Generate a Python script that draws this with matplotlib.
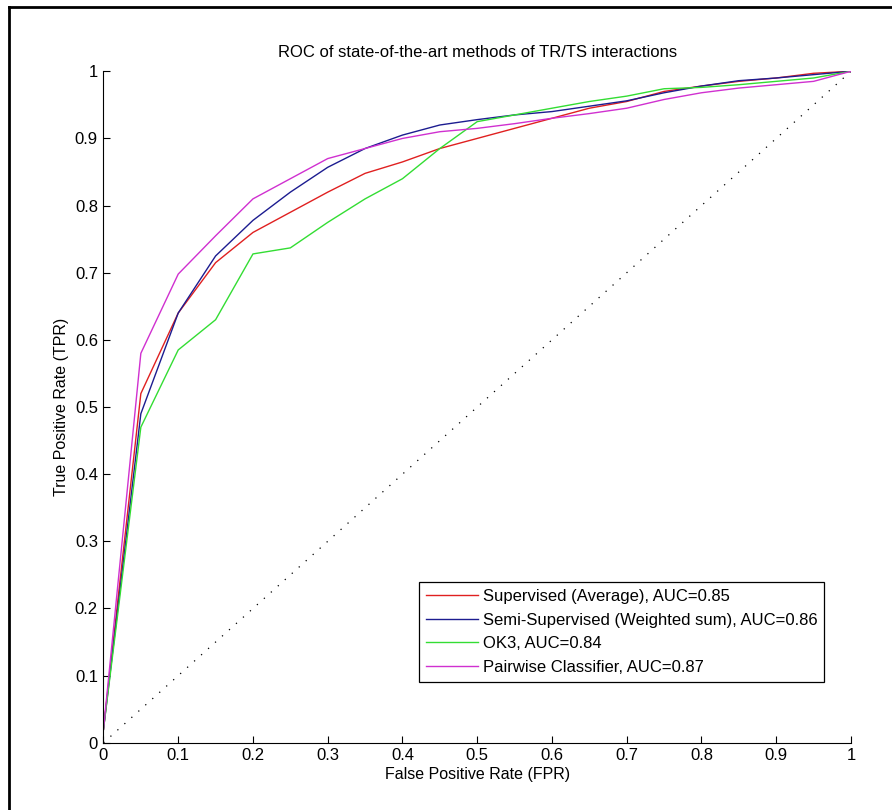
import matplotlib.pyplot as plt
from matplotlib.lines import Line2D

plt.rcParams['font.family'] = ['Liberation Sans', 'DejaVu Sans']

fpr = [0, 0.05, 0.1, 0.15, 0.2, 0.25, 0.3, 0.35, 0.4, 0.45, 0.5,
       0.55, 0.6, 0.65, 0.7, 0.75, 0.8, 0.85, 0.9, 0.95, 1.0]

tpr_sup = [0.02, 0.52, 0.64, 0.715, 0.76, 0.79, 0.82, 0.848, 0.865, 0.885, 0.9,
           0.915, 0.93, 0.945, 0.955, 0.97, 0.978, 0.985, 0.99, 0.997, 1.0]
tpr_semi = [0.02, 0.49, 0.64, 0.725, 0.778, 0.82, 0.857, 0.885, 0.905, 0.92, 0.928,
            0.935, 0.94, 0.948, 0.956, 0.968, 0.978, 0.986, 0.99, 0.995, 1.0]
tpr_ok3 = [0.02, 0.47, 0.585, 0.63, 0.728, 0.737, 0.775, 0.81, 0.84, 0.885, 0.925,
           0.935, 0.945, 0.955, 0.963, 0.974, 0.976, 0.98, 0.985, 0.99, 1.0]
tpr_pair = [0.02, 0.58, 0.698, 0.755, 0.81, 0.84, 0.87, 0.885, 0.9, 0.91, 0.915,
            0.922, 0.93, 0.937, 0.945, 0.958, 0.968, 0.975, 0.98, 0.985, 1.0]

labels = ['Supervised (Average), AUC=0.85',
          'Semi-Supervised (Weighted sum), AUC=0.86',
          'OK3, AUC=0.84',
          'Pairwise Classifier, AUC=0.87']

fig = plt.figure(figsize=(8.92, 8.10), dpi=100)
ax = fig.add_axes([0.116, 0.083, 0.838, 0.829])

ax.plot([0, 1], [0, 1], color='black', linestyle=(0, (1, 6.5)), linewidth=0.9)
ax.plot(fpr, tpr_sup, color='#e02020', linewidth=1, label=labels[0])
ax.plot(fpr, tpr_semi, color='#1c1c90', linewidth=1, label=labels[1])
ax.plot(fpr, tpr_ok3, color='#33dd33', linewidth=1, label=labels[2])
ax.plot(fpr, tpr_pair, color='#d030d0', linewidth=1, label=labels[3])

ax.set_xlim(0, 1)
ax.set_ylim(0, 1)
ticks = [0, 0.1, 0.2, 0.3, 0.4, 0.5, 0.6, 0.7, 0.8, 0.9, 1]
tick_labels = ['0', '0.1', '0.2', '0.3', '0.4', '0.5', '0.6', '0.7', '0.8', '0.9', '1']
ax.set_xticks(ticks)
ax.set_xticklabels(tick_labels)
ax.set_yticks(ticks)
ax.set_yticklabels(tick_labels)
ax.tick_params(direction='in', length=5, labelsize=12, pad=4)

ax.spines['top'].set_visible(False)
ax.spines['right'].set_visible(False)

ax.set_title('ROC of state-of-the-art methods of TR/TS interactions', fontsize=12, pad=10)
ax.set_xlabel('False Positive Rate (FPR)', fontsize=11.5, labelpad=3)
ax.set_ylabel('True Positive Rate (TPR)', fontsize=11.5, labelpad=4)

leg = ax.legend(loc='lower right', bbox_to_anchor=(0.964, 0.091), fontsize=12,
                fancybox=False, edgecolor='black', framealpha=1,
                handlelength=3.1, handletextpad=0.3, labelspacing=0.52,
                borderpad=0.4, borderaxespad=0)
leg.get_frame().set_linewidth(0.9)

# outer frame of the screenshot (left and top edges)
fig.add_artist(Line2D([0.0105, 0.0105], [0, 0.991], transform=fig.transFigure,
                      color='black', linewidth=2))
fig.add_artist(Line2D([0.0105, 1], [0.991, 0.991], transform=fig.transFigure,
                      color='black', linewidth=2))

fig.savefig('out.png', dpi=100)
